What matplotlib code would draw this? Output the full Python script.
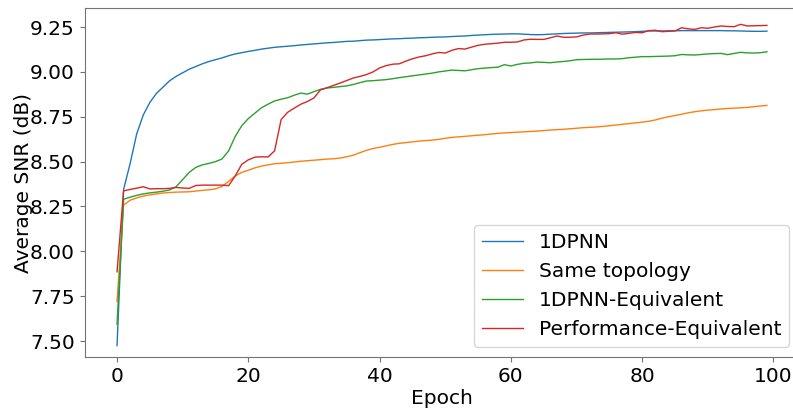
import matplotlib
matplotlib.use("Agg")
import matplotlib.pyplot as plt
import numpy as np

epochs = np.arange(100)

snr_1dpnn = [
    7.475, 8.345, 8.49, 8.655, 8.76, 8.83, 8.88, 8.915, 8.95, 8.975,
    8.995, 9.015, 9.03, 9.045, 9.058, 9.068, 9.078, 9.09, 9.1, 9.107,
    9.114, 9.12, 9.127, 9.132, 9.137, 9.14, 9.143, 9.146, 9.15, 9.153,
    9.156, 9.159, 9.162, 9.164, 9.167, 9.17, 9.171, 9.174, 9.177, 9.178,
    9.18, 9.182, 9.184, 9.185, 9.187, 9.188, 9.19, 9.191, 9.193, 9.194,
    9.195, 9.197, 9.199, 9.2, 9.203, 9.205, 9.207, 9.209, 9.21, 9.211,
    9.212, 9.212, 9.21, 9.208, 9.207, 9.208, 9.21, 9.212, 9.214, 9.215,
    9.216, 9.217, 9.217, 9.218, 9.219, 9.22, 9.221, 9.222, 9.223, 9.224,
    9.226, 9.228, 9.228, 9.228, 9.229, 9.229, 9.23, 9.23, 9.23, 9.23,
    9.23, 9.23, 9.23, 9.229, 9.229, 9.228, 9.227, 9.226, 9.226, 9.227,
]

snr_same_topology = [
    7.72, 8.258, 8.285, 8.298, 8.308, 8.315, 8.32, 8.325, 8.328, 8.33,
    8.331, 8.332, 8.336, 8.34, 8.343, 8.348, 8.362, 8.39, 8.42, 8.44,
    8.452, 8.465, 8.475, 8.482, 8.488, 8.491, 8.494, 8.498, 8.502, 8.505,
    8.508, 8.511, 8.514, 8.516, 8.52, 8.527, 8.536, 8.55, 8.563, 8.573,
    8.58, 8.588, 8.596, 8.602, 8.606, 8.61, 8.614, 8.617, 8.62, 8.624,
    8.63, 8.635, 8.638, 8.641, 8.644, 8.647, 8.65, 8.654, 8.657, 8.66,
    8.662, 8.664, 8.666, 8.668, 8.67, 8.673, 8.676, 8.678, 8.68, 8.683,
    8.686, 8.689, 8.691, 8.693, 8.696, 8.7, 8.704, 8.708, 8.712, 8.716,
    8.72, 8.725, 8.732, 8.742, 8.75, 8.757, 8.764, 8.772, 8.778, 8.783,
    8.787, 8.79, 8.793, 8.796, 8.798, 8.8, 8.802, 8.806, 8.81, 8.813,
]

snr_1dpnn_equiv = [
    7.594, 8.29, 8.302, 8.312, 8.32, 8.326, 8.33, 8.335, 8.342, 8.36,
    8.4, 8.44, 8.468, 8.482, 8.49, 8.5, 8.515, 8.56, 8.64, 8.7,
    8.74, 8.77, 8.8, 8.82, 8.838, 8.848, 8.856, 8.87, 8.882, 8.876,
    8.89, 8.903, 8.91, 8.914, 8.918, 8.922, 8.93, 8.94, 8.949, 8.951,
    8.954, 8.957, 8.962, 8.968, 8.973, 8.978, 8.983, 8.988, 8.993, 9.0,
    9.005, 9.01, 9.008, 9.006, 9.012, 9.018, 9.021, 9.024, 9.026, 9.04,
    9.033, 9.042, 9.048, 9.05, 9.055, 9.053, 9.051, 9.055, 9.058, 9.062,
    9.068, 9.069, 9.07, 9.07, 9.071, 9.072, 9.072, 9.074, 9.079, 9.082,
    9.085, 9.085, 9.086, 9.087, 9.088, 9.09, 9.097, 9.095, 9.094, 9.097,
    9.1, 9.102, 9.103, 9.096, 9.103, 9.109, 9.106, 9.105, 9.107, 9.112,
]

snr_perf_equiv = [
    7.886, 8.337, 8.345, 8.352, 8.36, 8.348, 8.349, 8.349, 8.351, 8.356,
    8.353, 8.351, 8.367, 8.369, 8.369, 8.369, 8.369, 8.366, 8.42, 8.485,
    8.51, 8.525, 8.527, 8.526, 8.56, 8.735, 8.775, 8.798, 8.82, 8.835,
    8.855, 8.9, 8.912, 8.925, 8.938, 8.952, 8.966, 8.975, 8.985, 9.0,
    9.022, 9.035, 9.043, 9.045, 9.06, 9.073, 9.083, 9.09, 9.1, 9.108,
    9.105, 9.12, 9.13, 9.127, 9.138, 9.148, 9.154, 9.157, 9.16, 9.165,
    9.165, 9.167, 9.178, 9.182, 9.181, 9.181, 9.19, 9.2, 9.193, 9.193,
    9.195, 9.205, 9.211, 9.211, 9.212, 9.213, 9.218, 9.21, 9.215, 9.22,
    9.218, 9.23, 9.232, 9.224, 9.226, 9.228, 9.246, 9.24, 9.237, 9.246,
    9.243, 9.25, 9.256, 9.253, 9.252, 9.265, 9.256, 9.257, 9.258, 9.259,
]

series = [
    ("1DPNN", snr_1dpnn),
    ("Same topology", snr_same_topology),
    ("1DPNN-Equivalent", snr_1dpnn_equiv),
    ("Performance-Equivalent", snr_perf_equiv),
]

plt.rcParams["font.size"] = 14.5
plt.rcParams["axes.edgecolor"] = "0.45"
plt.rcParams["xtick.color"] = "0.45"
plt.rcParams["ytick.color"] = "0.45"
plt.rcParams["xtick.labelcolor"] = "black"
plt.rcParams["ytick.labelcolor"] = "black"

fig = plt.figure(figsize=(7.93, 4.09), dpi=100)
# axes run a little past the right edge of the canvas
ax = fig.add_axes([0.1066, 0.127, 0.9015, 0.853])

for name, vals in series:
    ax.plot(epochs, vals, lw=1.0, label=name)

ax.set_xlim(-4.95, 103.95)
ax.set_ylim(7.411, 9.355)
ax.set_xlabel("Epoch", labelpad=2)
ax.set_ylabel("Average SNR (dB)", labelpad=-2)
ax.legend(loc="lower right")

fig.savefig("out.png", dpi=100)
plt.close(fig)
